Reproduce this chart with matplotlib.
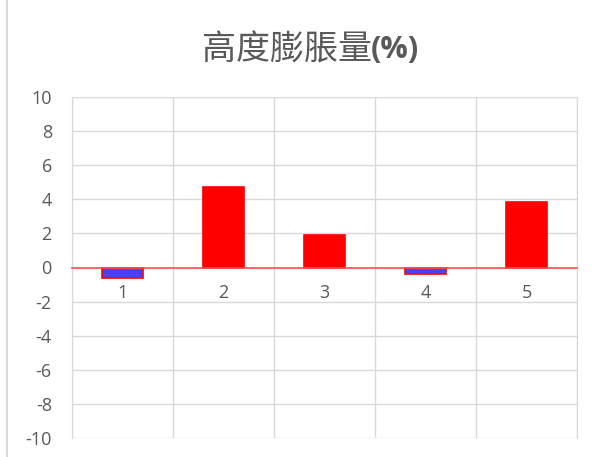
import numpy as np
import matplotlib.pyplot as plt

plt.rcParams['font.family'] = ['Open Sans', 'DejaVu Sans']
plt.rcParams['axes.unicode_minus'] = False

categorias = ['1', '2', '3', '4', '5']
valores = [-0.63, 4.75, 1.88, -0.37, 3.85]
titulo = '高度膨脹量'
titulo_unidad = '(%)'

gris = '#595959'
rejilla = '#d9d9d9'

fig = plt.figure(figsize=(5.92, 4.57), dpi=100)
ax = fig.add_axes([72/592, 1-438/457, (577-72)/592, (438-97)/457])

x = np.arange(1, len(categorias)+1)
colores = ['#4a40f5' if v < 0 else '#ff0000' for v in valores]
ax.bar(x, valores, width=0.41, color=colores, edgecolor='#ff0000', linewidth=1.2, zorder=3)

ax.set_xlim(0.5, len(categorias)+0.5)
ax.set_ylim(-10, 10)
ax.set_yticks(np.arange(-10, 11, 2))
ax.set_xticks(x)
ax.set_xticklabels(categorias)
ax.set_xticks(np.arange(0.5, len(categorias)+1, 1), minor=True)

ax.grid(True, axis='y', color=rejilla, linewidth=1, zorder=0)
ax.grid(True, axis='x', which='minor', color=rejilla, linewidth=1, zorder=0)
ax.grid(False, axis='x', which='major')

# eje horizontal en cero, rojo como en excel
ax.spines['bottom'].set_position(('data', 0))
ax.spines['bottom'].set_color('#ff5050')
ax.spines['bottom'].set_linewidth(1.2)
ax.spines['bottom'].set_zorder(4)
ax.spines['top'].set_visible(False)
for s in ['left', 'right']:
    ax.spines[s].set_color(rejilla)

ax.tick_params(axis='x', which='both', length=0, pad=12, labelsize=13, labelcolor=gris)
ax.tick_params(axis='y', length=0, pad=14.5, labelsize=13, labelcolor=gris)

fig.text(372/592, 1-50/457, titulo, ha='right', va='center', fontsize=24.5,
         color=gris, family=['Noto Sans CJK TC', 'DejaVu Sans'])
fig.text(371/592, 1-50/457, titulo_unidad, ha='left', va='center', fontsize=22,
         color=gris, fontweight='bold', family=['Open Sans', 'DejaVu Sans'])

# borde del area del grafico
fig.add_artist(plt.Line2D([7/592, 7/592], [0, 1], color=rejilla, linewidth=1.5))

plt.savefig('out.png', dpi=100)
